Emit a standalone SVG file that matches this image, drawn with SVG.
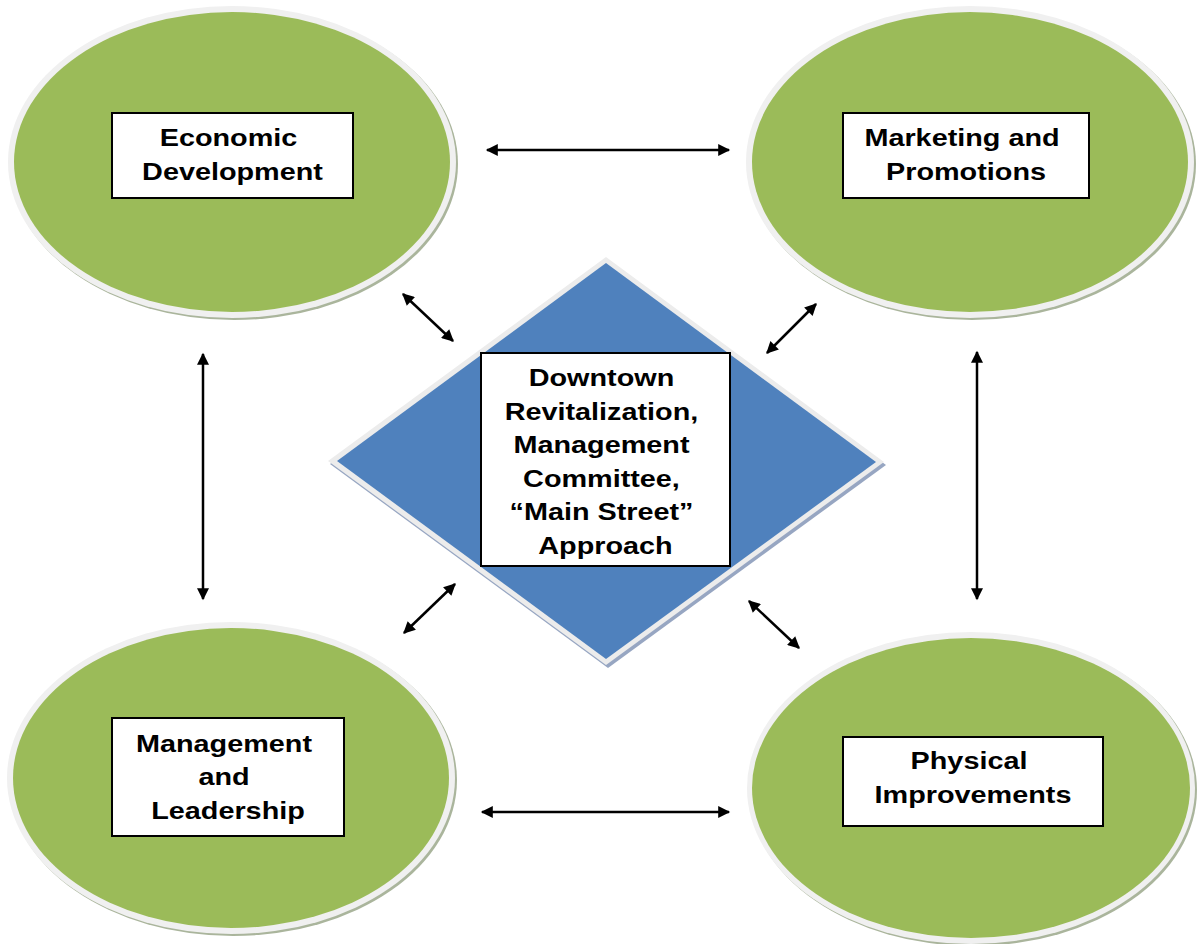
<svg xmlns="http://www.w3.org/2000/svg" width="1199" height="944" viewBox="0 0 1199 944">
<defs>
<style>
.shadow{fill:#aab59c}
.rim{fill:#f0f0f0}
.green{fill:#9bbb59}
.box{fill:#ffffff;stroke:#000000;stroke-width:2}
.t{font-family:"Liberation Sans",Arial,sans-serif;font-weight:bold;font-size:24px;fill:#000000;text-anchor:middle}
.c{stroke:#000000;stroke-width:2.5;fill:none;marker-start:url(#ah);marker-end:url(#ah)}
</style>
<marker id="ah" viewBox="0 0 10 10" refX="9" refY="5" markerWidth="5.6" markerHeight="4.8" markerUnits="strokeWidth" orient="auto-start-reverse">
<path d="M0,0 L10,5 L0,10 z" fill="#000000"/>
</marker>
</defs>
<rect width="1199" height="944" fill="#ffffff"/>

<g id="center">
<polygon points="608,260 886,465 608,668 330,464" fill="#97a6c2"/>
<polygon points="606,257 884,462 606,665 328,461" fill="#ececec"/>
<polygon points="606,263 876,462 606,659 337,461" fill="#4f81bd"/>
<rect class="box" x="481" y="353" width="249" height="213"/>
<text class="t" transform="translate(605.5 0) scale(1.2 1)">
<tspan x="0" y="386">Downtown</tspan>
<tspan x="0" y="420">Revitalization,</tspan>
<tspan x="0" y="453">Management</tspan>
<tspan x="0" y="487">Committee,</tspan>
<tspan x="0" y="520">“Main Street”</tspan>
<tspan x="0" y="554">Approach</tspan>
</text>
</g>

<g id="economic">
<ellipse class="shadow" cx="234" cy="164" rx="224" ry="156"/>
<ellipse class="rim" cx="232" cy="162" rx="224" ry="156"/>
<ellipse class="green" cx="232" cy="162" rx="218" ry="150"/>
<rect class="box" x="112" y="113" width="241" height="85"/>
<text class="t" transform="translate(232.5 0) scale(1.2 1)">
<tspan x="0" y="146">Economic</tspan>
<tspan x="0" y="180">Development</tspan>
</text>
</g>

<g id="marketing">
<ellipse class="shadow" cx="972" cy="164" rx="224" ry="156"/>
<ellipse class="rim" cx="970" cy="162" rx="224" ry="156"/>
<ellipse class="green" cx="970" cy="162" rx="218" ry="150"/>
<rect class="box" x="843" y="113" width="246" height="85"/>
<text class="t" transform="translate(966 0) scale(1.2 1)">
<tspan x="0" y="146">Marketing and</tspan>
<tspan x="0" y="180">Promotions</tspan>
</text>
</g>

<g id="management">
<ellipse class="shadow" cx="233" cy="780" rx="224" ry="156"/>
<ellipse class="rim" cx="231" cy="778" rx="224" ry="156"/>
<ellipse class="green" cx="231" cy="778" rx="218" ry="150"/>
<rect class="box" x="112" y="718" width="232" height="118"/>
<text class="t" transform="translate(228 0) scale(1.2 1)">
<tspan x="0" y="752">Management</tspan>
<tspan x="0" y="785">and</tspan>
<tspan x="0" y="819">Leadership</tspan>
</text>
</g>

<g id="physical">
<ellipse class="shadow" cx="973" cy="790" rx="224" ry="156"/>
<ellipse class="rim" cx="971" cy="788" rx="224" ry="156"/>
<ellipse class="green" cx="971" cy="788" rx="219" ry="150"/>
<rect class="box" x="843" y="737" width="260" height="89"/>
<text class="t" transform="translate(973 0) scale(1.2 1)">
<tspan x="0" y="769">Physical</tspan>
<tspan x="0" y="803">Improvements</tspan>
</text>
</g>

<g id="connectors">
<line class="c" x1="487" y1="150" x2="729" y2="150"/>
<line class="c" x1="482" y1="812" x2="729" y2="812"/>
<line class="c" x1="203" y1="354" x2="203" y2="599"/>
<line class="c" x1="977" y1="352" x2="977" y2="599"/>
<line class="c" x1="403" y1="294" x2="453" y2="341"/>
<line class="c" x1="816" y1="304" x2="767" y2="353"/>
<line class="c" x1="455" y1="584" x2="404" y2="633"/>
<line class="c" x1="749" y1="601" x2="799" y2="648"/>
</g>
</svg>
